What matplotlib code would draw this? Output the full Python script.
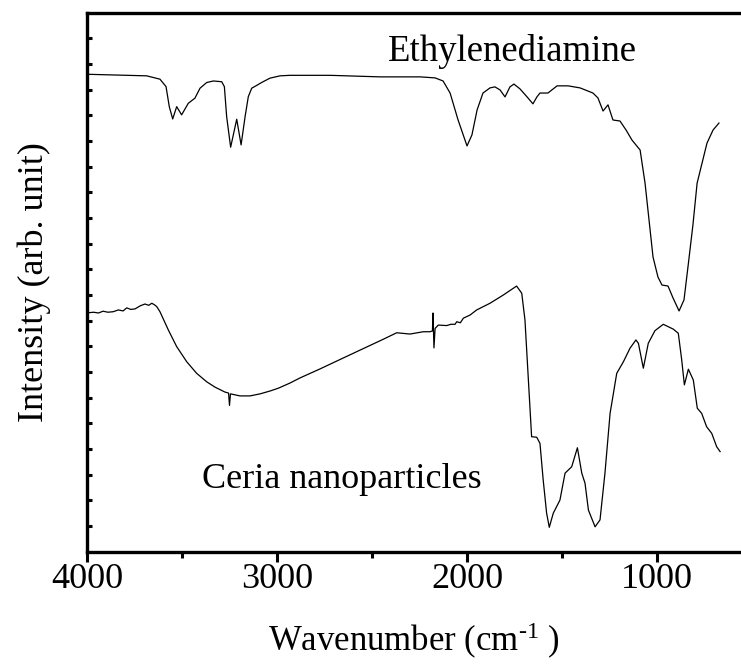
import numpy as np
import matplotlib
matplotlib.use("Agg")
import matplotlib.pyplot as plt
from matplotlib.ticker import MultipleLocator, FixedLocator

# wavenumber (cm-1) and intensity (arb.)
eda_wn = [3993, 3686, 3616, 3584, 3567, 3549, 3528, 3502, 3467, 3432, 3405, 3370, 3335,
          3291, 3277, 3265, 3244, 3212, 3189, 3168, 3151, 3133, 3111, 3081, 3037, 2984,
          2932, 2721, 2458, 2247, 2168, 2126, 2089, 2047, 2000, 1974, 1947, 1916, 1879,
          1853, 1826, 1800, 1774, 1753, 1721, 1684, 1653, 1632, 1616, 1574, 1526, 1468,
          1405, 1337, 1311, 1284, 1258, 1232, 1195, 1163, 1132, 1089, 1063, 1042, 1021,
          995, 974, 942, 916, 884, 858, 837, 811, 789, 737, 705, 674]
eda_int = [18.60, 18.54, 18.41, 18.12, 17.34, 16.86, 17.34, 17.02, 17.47, 17.67, 18.06, 18.28, 18.34,
           18.31, 18.12, 16.95, 15.76, 16.85, 15.85, 16.95, 17.73, 18.06, 18.15, 18.28, 18.45, 18.54,
           18.56, 18.56, 18.50, 18.50, 18.46, 18.34, 17.87, 16.82, 15.81, 16.24, 17.21, 17.87, 18.07,
           18.11, 17.99, 17.72, 18.11, 18.22, 18.03, 17.72, 17.45, 17.72, 17.87, 17.87, 18.15, 18.15,
           18.07, 17.87, 17.68, 17.17, 17.41, 16.82, 16.78, 16.43, 16.04, 15.65, 14.36, 12.92, 11.48,
           10.70, 10.39, 10.35, 9.89, 9.38, 9.81, 11.10, 12.73, 14.36, 15.92, 16.43, 16.70]

ceria_wn = [3993, 3965, 3940, 3915, 3890, 3862, 3835, 3810, 3791, 3770, 3747, 3720, 3695,
            3675, 3659, 3645, 3633, 3616, 3572, 3528, 3475, 3423, 3370, 3326, 3274, 3255,
            3250, 3245, 3195, 3142, 3089, 3037, 2993, 2932, 2879, 2774, 2616, 2440, 2370,
            2300, 2230, 2195, 2182, 2179, 2174, 2168, 2151, 2107, 2085, 2063, 2054, 2035,
            2019, 1984, 1949, 1879, 1809, 1739, 1712, 1695, 1677, 1660, 1633, 1616, 1599,
            1581, 1567, 1546, 1511, 1484, 1449, 1419, 1396, 1379, 1361, 1326, 1300, 1274,
            1247, 1212, 1177, 1142, 1111, 1098, 1072, 1046, 1011, 967, 914, 888, 870, 856,
            835, 809, 788, 765, 739, 712, 686, 668]
ceria_int = [9.31, 9.33, 9.30, 9.37, 9.33, 9.35, 9.42, 9.38, 9.50, 9.44, 9.46, 9.58, 9.65,
             9.60, 9.68, 9.62, 9.55, 9.35, 8.64, 7.99, 7.40, 6.95, 6.62, 6.41, 6.22, 6.18,
             5.70, 6.15, 6.07, 6.07, 6.15, 6.26, 6.37, 6.57, 6.77, 7.12, 7.67, 8.28, 8.53,
             8.48, 8.57, 8.57, 8.60, 9.30, 7.94, 8.70, 8.83, 8.81, 8.86, 8.86, 8.96, 8.92,
             9.10, 9.22, 9.42, 9.68, 10.00, 10.35, 10.07, 9.03, 6.69, 4.48, 4.46, 4.22, 2.79,
             1.50, 0.95, 1.50, 2.01, 3.06, 3.31, 4.05, 3.06, 2.67, 1.62, 0.97, 1.24, 3.06,
             5.39, 6.95, 7.40, 7.93, 8.25, 8.12, 7.15, 8.12, 8.61, 8.86, 8.67, 8.51, 7.47, 6.50,
             7.11, 6.69, 5.59, 5.39, 4.87, 4.61, 4.09, 3.90]

plt.rcParams['font.family'] = ['Liberation Serif', 'DejaVu Serif']
plt.rcParams['mathtext.fontset'] = 'custom'
plt.rcParams['mathtext.rm'] = 'Liberation Serif'
plt.rcParams['mathtext.it'] = 'Liberation Serif'

fig = plt.figure(figsize=(7.41, 6.66), dpi=100)
ax = fig.add_axes([87 / 741, (666 - 551.7) / 666, 1 - 87 / 741, 539 / 666])

ax.plot(eda_wn, eda_int, color='black', lw=0.9)
ax.plot(ceria_wn, ceria_int, color='black', lw=0.9)

ax.set_xlim(4000, 558)
ax.set_ylim(0, 21)

for s in ['left', 'bottom', 'top']:
    ax.spines[s].set_linewidth(2.4)
ax.spines['right'].set_visible(False)

ax.xaxis.set_major_locator(MultipleLocator(1000))
ax.xaxis.set_minor_locator(MultipleLocator(500))
ax.tick_params(axis='x', which='major', direction='out', length=7, width=2.2,
               labelsize=26, pad=1, top=False)
ax.tick_params(axis='x', which='minor', direction='out', length=4.3, width=2.2, top=False)

ax.yaxis.set_major_locator(FixedLocator(np.arange(1, 21)))
ax.tick_params(axis='y', which='major', direction='in', length=3.3, width=2.2,
               labelleft=False, right=False)

ax.set_xlabel('Wavenumber (cm$^{\u2010 1}$ )', fontsize=25, labelpad=18)
ax.set_ylabel('Intensity (arb. unit)', fontsize=26, labelpad=26)

ax.text(0.650, 0.910, 'Ethylenediamine', transform=ax.transAxes, fontsize=26.5,
        ha='center', va='baseline')
ax.text(0.390, 0.118, 'Ceria nanoparticles', transform=ax.transAxes, fontsize=26,
        ha='center', va='baseline')

fig.savefig('out.png', dpi=100)
